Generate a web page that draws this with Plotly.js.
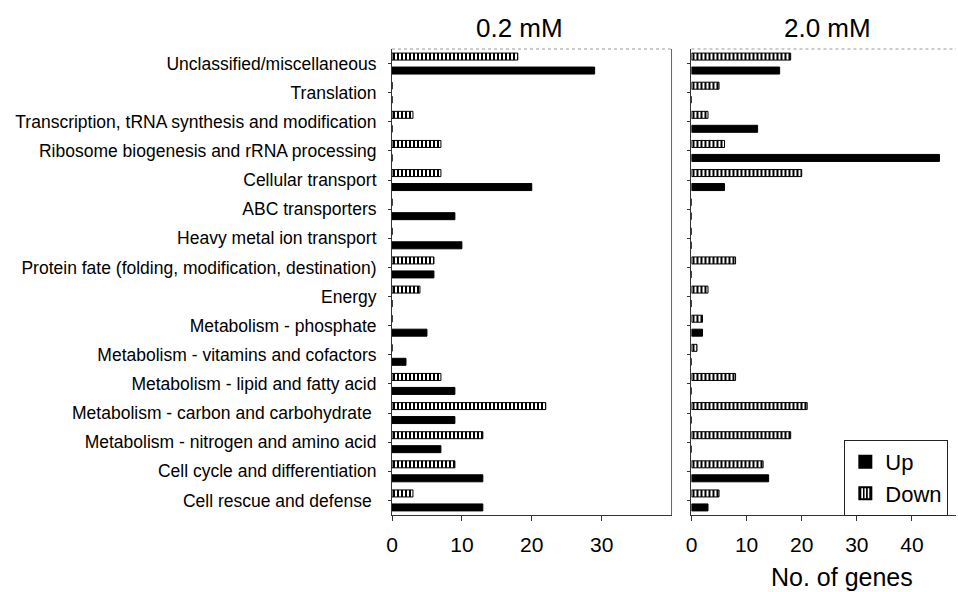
<!DOCTYPE html>
<html>
<head>
<meta charset="utf-8">
<script src="https://cdn.plot.ly/plotly-3.0.1.min.js"></script>
<style>html,body{margin:0;padding:0;background:#fff;}#chart{width:958px;height:592px;}</style>
</head>
<body>
<div id="chart"></div>
<script>
const categories = [
  "Unclassified/miscellaneous",
  "Translation",
  "Transcription, tRNA synthesis and modification",
  "Ribosome biogenesis and rRNA processing",
  "Cellular transport",
  "ABC transporters",
  "Heavy metal ion transport",
  "Protein fate (folding, modification, destination)",
  "Energy",
  "Metabolism - phosphate",
  "Metabolism - vitamins and cofactors",
  "Metabolism - lipid and fatty acid",
  "Metabolism - carbon and carbohydrate\u00a0",
  "Metabolism - nitrogen and amino acid",
  "Cell cycle and differentiation",
  "Cell rescue and defense\u00a0"
];
const up_02   = [29, 0, 0, 0, 20, 9, 10, 6, 0, 5, 2, 9, 9, 7, 13, 13];
const down_02 = [18, 0, 3, 7, 7, 0, 0, 6, 4, 0, 0, 7, 22, 13, 9, 3];
const up_20   = [16, 0, 12, 45, 6, 0, 0, 0, 0, 2, 0, 0, 0, 0, 14, 3];
const down_20 = [18, 5, 3, 6, 20, 0, 0, 8, 3, 2, 1, 8, 21, 18, 13, 5];
const panelTitles = ["0.2 mM", "2.0 mM"];
const xTitle = "No. of genes";
const seriesNames = ["Up", "Down"];

const FONT = "Arial, 'Liberation Sans', Helvetica, sans-serif";
const downPattern = {shape: "|", fgcolor: "#000", bgcolor: "#fff", size: 4, solidity: 0.5, fillmode: "replace"};

const traces = [
  {type: "bar", orientation: "h", name: seriesNames[1], y: categories, x: down_02, xaxis: "x", yaxis: "y",
   marker: {color: "#fff", pattern: downPattern, line: {color: "#000", width: 1}}, showlegend: true, legendrank: 2},
  {type: "bar", orientation: "h", name: seriesNames[0], y: categories, x: up_02, xaxis: "x", yaxis: "y",
   marker: {color: "#000", line: {color: "#000", width: 1}}, showlegend: true, legendrank: 1},
  {type: "bar", orientation: "h", name: seriesNames[1], y: categories, x: down_20, xaxis: "x2", yaxis: "y2",
   marker: {color: "#fff", pattern: downPattern, line: {color: "#000", width: 1}}, showlegend: false},
  {type: "bar", orientation: "h", name: seriesNames[0], y: categories, x: up_20, xaxis: "x2", yaxis: "y2",
   marker: {color: "#000", line: {color: "#000", width: 1}}, showlegend: false}
];

const axisX = {
  showgrid: false, zeroline: false, showline: true, linecolor: "#333", linewidth: 1,
  ticks: "outside", ticklen: 5, tickcolor: "#333", tickfont: {family: FONT, size: 21, color: "#000"},
  ticklabelstandoff: 6, fixedrange: true
};
const axisY = {
  type: "category", autorange: "reversed", showgrid: false, zeroline: false, showline: true,
  linecolor: "#333", linewidth: 1, ticks: "outside", ticklen: 3, tickcolor: "#333", fixedrange: true
};

const layout = {
  width: 958, height: 592,
  margin: {l: 392, r: 2, t: 49, b: 77},
  paper_bgcolor: "#fff", plot_bgcolor: "#fff",
  font: {family: FONT, color: "#000"},
  barmode: "group", bargap: 0.04, bargroupgap: 0.5,
  xaxis: Object.assign({}, axisX, {domain: [0, 0.4956], range: [0, 40], tickvals: [0, 10, 20, 30]}),
  xaxis2: Object.assign({}, axisX, {domain: [0.531, 1], range: [0, 48], tickvals: [0, 10, 20, 30, 40]}),
  yaxis: Object.assign({}, axisY, {anchor: "x", tickfont: {family: FONT, size: 17.5, color: "#000"}, ticklabelstandoff: 8}),
  yaxis2: Object.assign({}, axisY, {anchor: "x2", showticklabels: false}),
  legend: {
    x: 0.802, y: 0.161, xanchor: "left", yanchor: "top",
    bordercolor: "#222", borderwidth: 1, bgcolor: "#fff",
    font: {family: FONT, size: 22, color: "#000"}, traceorder: "normal",
    itemsizing: "constant", tracegroupgap: 0, itemwidth: 30
  },
  shapes: [
    {type: "line", xref: "x domain", yref: "paper", x0: 0, x1: 1, y0: 1, y1: 1, line: {color: "#999", width: 1, dash: "dot"}},
    {type: "line", xref: "x domain", yref: "paper", x0: 1, x1: 1, y0: 0, y1: 1, line: {color: "#666", width: 1}},
    {type: "line", xref: "x2 domain", yref: "paper", x0: 0, x1: 1, y0: 1, y1: 1, line: {color: "#999", width: 1, dash: "dot"}}
  ],
  annotations: [
    {text: panelTitles[0], xref: "x domain", yref: "paper", x: 0.5, y: 1, xshift: -12, yshift: 21, yanchor: "middle", xanchor: "center", showarrow: false, font: {family: FONT, size: 26, color: "#000"}},
    {text: panelTitles[1], xref: "x2 domain", yref: "paper", x: 0.5, y: 1, xshift: 4, yshift: 21, yanchor: "middle", xanchor: "center", showarrow: false, font: {family: FONT, size: 26, color: "#000"}},
    {text: xTitle, xref: "x2 domain", yref: "paper", x: 0.57, y: 0, yshift: -62, yanchor: "middle", xanchor: "center", showarrow: false, font: {family: FONT, size: 25, color: "#000"}}
  ]
};

Plotly.newPlot("chart", traces, layout, {displayModeBar: false, staticPlot: true});
</script>
</body>
</html>
